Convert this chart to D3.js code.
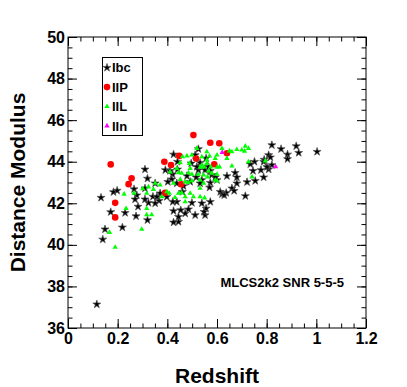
<!DOCTYPE html>
<html>
<head>
<meta charset="utf-8">
<script src="https://cdn.jsdelivr.net/npm/d3@7"></script>
<style>
  body { margin: 0; background: #fff; }
  text { font-family: "Liberation Sans", Arial, sans-serif; font-weight: bold; fill: #000; }
</style>
</head>
<body>
<svg id="chart"></svg>
<script>
const width = 407, height = 387;
const margin = {left: 68, right: 41, top: 37, bottom: 59};

// tick labels
const xTicks = [0, 0.2, 0.4, 0.6, 0.8, 1, 1.2];
const yTicks = [36, 38, 40, 42, 44, 46, 48, 50];
const seriesNames = ['Ibc', 'IIP', 'IIL', 'IIn'];

// [redshift, distance modulus]
const ibc = [[0.116,37.14],[0.140,40.26],[0.149,40.75],[0.133,42.27],[0.172,41.58],[0.183,42.54],[0.198,42.61],
  [0.219,40.84],[0.230,41.54],[0.266,42.68],[0.274,41.38],[0.282,41.84],[0.310,43.63],[0.320,43.19],[0.320,41.19],
  [0.342,42.32],[0.351,42.96],[0.367,42.12],[0.324,42.02],[0.371,42.48],[0.425,44.35],[0.392,43.60],[0.441,43.63],
  [0.421,43.39],[0.438,42.07],[0.461,42.55],[0.425,41.63],[0.454,41.67],[0.445,41.11],[0.425,41.08],[0.277,42.39],
  [0.441,44.00],[0.418,43.15],[0.402,43.03],[0.438,42.96],[0.465,42.83],[0.492,43.03],[0.516,43.25],[0.479,43.31],
  [0.552,43.60],[0.566,43.75],[0.532,43.95],[0.525,43.60],[0.579,43.36],[0.600,43.12],[0.640,43.31],[0.673,43.47],
  [0.680,42.96],[0.637,42.50],[0.613,42.55],[0.573,42.07],[0.539,42.00],[0.556,41.75],[0.552,41.43],[0.512,41.43],
  [0.499,42.02],[0.485,41.71],[0.472,41.51],[0.445,41.35],[0.422,42.07],[0.398,42.31],[0.358,42.31],[0.310,42.19],
  [0.351,42.00],[0.270,42.19],[0.310,42.72],[0.821,44.80],[0.858,44.61],[0.919,44.75],[0.929,44.43],[0.884,44.35],
  [0.884,44.13],[1.003,44.48],[0.808,44.32],[0.815,44.21],[0.790,44.10],[0.788,44.00],[0.751,44.00],[0.734,43.88],
  [0.745,43.56],[0.777,43.60],[0.808,43.63],[0.821,43.84],[0.801,43.75],[0.680,43.25],[0.721,43.02],[0.754,43.08],
  [0.788,43.25],[0.660,42.72],[0.669,42.60],[0.714,42.35],[0.620,42.44],[0.629,42.39],[0.573,42.99],[0.548,41.59],
  [0.570,42.76],[0.539,43.12],[0.573,43.56],[0.593,43.25],[0.532,42.96],[0.525,44.61],[0.512,44.32],[0.556,44.16],
  [0.496,43.92],[0.519,43.75],[0.411,43.56]];

const iip = [[0.172,43.87],[0.256,43.20],[0.244,42.92],[0.190,42.02],[0.190,41.32],[0.388,44.00],[0.448,44.28],
  [0.415,43.84],[0.505,45.28],[0.516,44.15],[0.573,44.91],[0.609,44.89],[0.589,43.88],[0.640,44.41],[0.391,42.50],
  [0.456,42.91]];

const iil = [[0.479,44.28],[0.499,44.32],[0.559,44.48],[0.570,44.27],[0.600,44.32],[0.660,44.48],[0.489,43.92],
  [0.539,43.84],[0.559,43.92],[0.532,43.73],[0.575,43.75],[0.610,43.75],[0.438,43.68],[0.492,43.68],[0.445,43.47],
  [0.458,43.44],[0.485,43.47],[0.499,43.40],[0.525,43.40],[0.546,43.36],[0.566,43.56],[0.600,43.40],[0.351,42.96],
  [0.371,42.88],[0.425,42.96],[0.452,43.15],[0.472,43.03],[0.485,43.00],[0.499,43.08],[0.532,43.12],[0.546,42.96],
  [0.600,43.07],[0.266,42.48],[0.301,42.70],[0.317,42.48],[0.344,42.67],[0.378,42.31],[0.408,42.48],[0.431,42.28],
  [0.445,42.48],[0.458,42.50],[0.472,42.31],[0.492,42.48],[0.532,42.72],[0.505,42.31],[0.472,42.07],[0.234,41.75],
  [0.317,41.75],[0.317,41.45],[0.337,41.45],[0.297,40.75],[0.680,44.59],[0.700,44.56],[0.714,44.75],[0.711,44.51],
  [0.727,44.64],[0.650,44.52],[0.559,44.08],[0.593,44.16],[0.600,43.73],[0.548,43.75],[0.579,43.44],[0.562,43.27],
  [0.593,43.12],[0.660,43.79],[0.727,44.00],[0.794,44.04],[0.741,43.27],[0.532,42.31],[0.550,42.26],[0.539,44.24],
  [0.167,40.60],[0.190,39.88],[0.226,42.44],[0.461,44.24],[0.519,44.64],[0.620,44.64],[0.640,44.16],[0.452,43.95],
  [0.411,43.51],[0.398,42.55],[0.324,42.79]];

const iin = [[0.621,44.45],[0.836,43.76]];

const svg = d3.select('#chart')
    .attr('width', width)
    .attr('height', height)
    .attr('viewBox', [0, 0, width, height]);

const x = d3.scaleLinear().domain([0, 1.2]).range([margin.left, width - margin.right]);
const y = d3.scaleLinear().domain([36, 50]).range([height - margin.bottom, margin.top]);

const xMinor = d3.range(0, 25).map(i => i * 0.05);
const yMinor = d3.range(0, 29).map(i => 36 + i * 0.5);

// ticks point inside the frame, on all four sides
function tickAxis(axis, vals, size, fmt) {
  return axis.tickValues(vals).tickSize(-size).tickPadding(fmt ? 5 : 0).tickFormat(fmt || '');
}

const frameB = y(36), frameT = y(50), frameL = x(0), frameR = x(1.2);

svg.append('g').attr('transform', `translate(0,${frameB})`)
  .call(tickAxis(d3.axisBottom(x), xMinor, 4.5));
svg.append('g').attr('transform', `translate(0,${frameB})`)
  .call(tickAxis(d3.axisBottom(x), xTicks, 9, d3.format('~g')))
  .selectAll('text').attr('font-size', 16).attr('dy', '0.78em').attr('y', 4);
svg.append('g').attr('transform', `translate(0,${frameT})`)
  .call(tickAxis(d3.axisTop(x), xMinor, 4.5));
svg.append('g').attr('transform', `translate(0,${frameT})`)
  .call(tickAxis(d3.axisTop(x), xTicks, 9));

svg.append('g').attr('transform', `translate(${frameL},0)`)
  .call(tickAxis(d3.axisLeft(y), yMinor, 4.5));
svg.append('g').attr('transform', `translate(${frameL},0)`)
  .call(tickAxis(d3.axisLeft(y), yTicks, 9, d3.format('d')))
  .selectAll('text').attr('font-size', 16).attr('x', -3);
svg.append('g').attr('transform', `translate(${frameR},0)`)
  .call(tickAxis(d3.axisRight(y), yMinor, 4.5));
svg.append('g').attr('transform', `translate(${frameR},0)`)
  .call(tickAxis(d3.axisRight(y), yTicks, 9));

svg.selectAll('.domain').remove();
svg.selectAll('.tick line').attr('stroke', '#000');
svg.selectAll('.tick text').attr('font-family', '"Liberation Sans", Arial, sans-serif').attr('font-weight', 'bold');

svg.append('rect')
  .attr('x', frameL).attr('y', frameT)
  .attr('width', frameR - frameL).attr('height', frameB - frameT)
  .attr('fill', 'none').attr('stroke', '#000');

// points
const star = d3.symbol().type(d3.symbolStar).size(20);
const tri = d3.symbol().type(d3.symbolTriangle).size(12);

const pts = svg.append('g').attr('id', 'points');

pts.selectAll('.ibc').data(ibc).enter()
  .append('path').attr('class', 'ibc')
  .attr('d', star)
  .attr('transform', d => `translate(${x(d[0])},${y(d[1])})`)
  .attr('fill', '#000').attr('stroke', '#555').attr('stroke-width', 0.7);

pts.selectAll('.iip').data(iip).enter()
  .append('circle').attr('class', 'iip')
  .attr('cx', d => x(d[0])).attr('cy', d => y(d[1]))
  .attr('r', 3.3).attr('fill', '#ff0000');

pts.selectAll('.iil').data(iil).enter()
  .append('path').attr('class', 'iil')
  .attr('d', tri)
  .attr('transform', d => `translate(${x(d[0])},${y(d[1])})`)
  .attr('fill', '#00ff00');

pts.selectAll('.iin').data(iin).enter()
  .append('path').attr('class', 'iin')
  .attr('d', tri)
  .attr('transform', d => `translate(${x(d[0])},${y(d[1])})`)
  .attr('fill', '#ff00ff');

// legend
const legend = svg.append('g').attr('id', 'legend');
legend.append('rect')
  .attr('x', 102.5).attr('y', 57.5).attr('width', 40).attr('height', 78)
  .attr('fill', '#fff').attr('stroke', '#000');

const leg = legend.selectAll('.entry').data(seriesNames).enter()
  .append('g').attr('class', 'entry')
  .attr('transform', (d, i) => `translate(107,${67.7 + i * 19.4})`);

leg.append('path')
  .attr('d', (d, i) => i === 0 ? star() : i === 1 ? d3.symbol().type(d3.symbolCircle).size(34)() : tri())
  .attr('fill', (d, i) => ['#000', '#ff0000', '#00ff00', '#ff00ff'][i])
  .attr('stroke', (d, i) => i === 0 ? '#555' : 'none').attr('stroke-width', 0.7);

leg.append('text')
  .attr('x', 5).attr('dy', '0.36em')
  .attr('font-size', 13)
  .text(d => d);

// annotation + titles
svg.append('text')
  .attr('x', 344).attr('y', 287)
  .attr('text-anchor', 'end').attr('font-size', 13)
  .text('MLCS2k2 SNR 5-5-5');

svg.append('text')
  .attr('x', (frameL + frameR) / 2).attr('y', 383)
  .attr('text-anchor', 'middle').attr('font-size', 21)
  .text('Redshift');

svg.append('text')
  .attr('transform', `translate(25,${(frameT + frameB) / 2}) rotate(-90)`)
  .attr('text-anchor', 'middle').attr('font-size', 21)
  .text('Distance Modulus');
</script>
</body>
</html>
